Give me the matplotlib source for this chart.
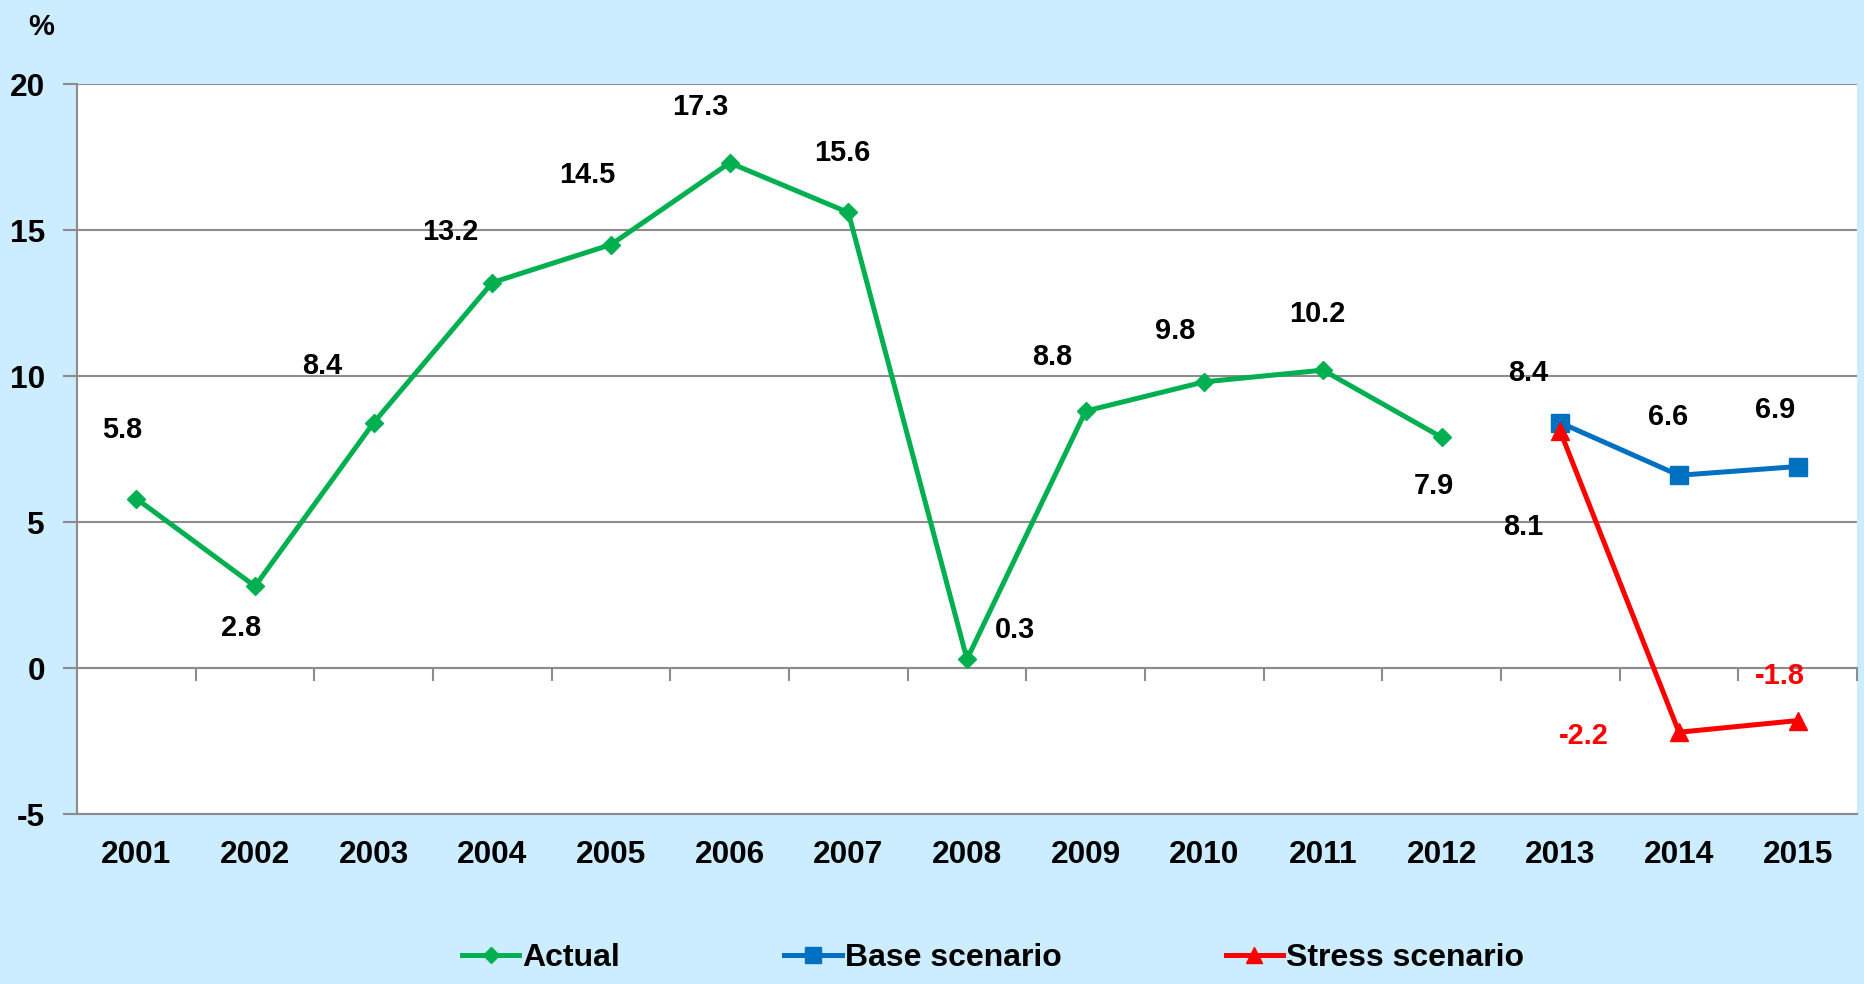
import numpy as np
import matplotlib.pyplot as plt

plt.rcParams['font.family'] = ['Liberation Sans', 'DejaVu Sans']
plt.rcParams['font.weight'] = 'bold'
plt.rcParams['axes.unicode_minus'] = False

# data
years = ['2001', '2002', '2003', '2004', '2005', '2006', '2007', '2008',
         '2009', '2010', '2011', '2012', '2013', '2014', '2015']
actual = [5.8, 2.8, 8.4, 13.2, 14.5, 17.3, 15.6, 0.3, 8.8, 9.8, 10.2, 7.9]
base = [8.4, 6.6, 6.9]
stress = [8.1, -2.2, -1.8]

# label offsets (pixels) - placed by hand like in the original
off_actual = [(-14, 69), (-14, -42), (-51, 57), (-42, 51), (-24, 70), (-29, 56),
              (-6, 59), (48, 29), (-33, 54), (-29, 51), (-6, 56), (-8, -49)]
off_base = [(-32, 50), (-11, 58), (-23, 57)]
off_stress = [(-37, -96), (-95, -4), (-18, 45)]

verde = '#00B050'
azul = '#0070C0'
rojo = '#FF0000'
gris = '#8C8C8C'
fondo = '#CCECFF'

x = np.arange(len(years))
x_act = x[:len(actual)]
x_esc = x[len(actual):]

fig = plt.figure(figsize=(18.65, 9.84), dpi=100, facecolor=fondo)
ax = fig.add_axes([77 / 1865, 1 - 814 / 984, (1857 - 77) / 1865, (814 - 84) / 984])
ax.set_facecolor('white')

ax.plot(x_act, actual, color=verde, lw=3.6, marker='D', ms=9, label='Actual', zorder=3)
ax.plot(x_esc, base, color=azul, lw=3.6, marker='s', ms=13, label='Base scenario', zorder=3)
ax.plot(x_esc, stress, color=rojo, lw=3.6, marker='^', ms=13, label='Stress scenario', zorder=4)

for xi, v, o in zip(x_act, actual, off_actual):
    ax.annotate(f'{v:.1f}', (xi, v), xytext=o, textcoords='offset pixels',
                ha='center', va='center', fontsize=20.8, fontweight='bold', color='black')
for xi, v, o in zip(x_esc, base, off_base):
    ax.annotate(f'{v:.1f}', (xi, v), xytext=o, textcoords='offset pixels',
                ha='center', va='center', fontsize=20.8, fontweight='bold', color='black')
for xi, v, o in zip(x_esc, stress, off_stress):
    ax.annotate(f'{v:.1f}', (xi, v), xytext=o, textcoords='offset pixels',
                ha='center', va='center', fontsize=20.8, fontweight='bold',
                color='black' if v > 0 else rojo)

ax.set_xlim(-0.5, len(years) - 0.5)
ax.set_ylim(-5, 20)
ax.set_yticks([-5, 0, 5, 10, 15, 20])
ax.set_xticks(x)
ax.set_xticklabels(years)
ax.tick_params(axis='x', length=0, pad=18.5, labelsize=22.8)
ax.tick_params(axis='y', length=10, width=1.5, color=gris, direction='out', pad=13, labelsize=22.8)

ax.grid(axis='y', color=gris, lw=1.5)
ax.set_axisbelow(True)
for lado in ['top', 'right']:
    ax.spines[lado].set_visible(False)
for lado in ['left', 'bottom']:
    ax.spines[lado].set_color(gris)
    ax.spines[lado].set_linewidth(1.5)

# eje de categorias sobre el cero, con marcas entre años
sec = ax.secondary_xaxis(0.2)
sec.set_xticks(np.arange(-0.5, len(years), 1.0))
sec.tick_params(axis='x', length=9, width=1.5, color=gris, direction='out', labelbottom=False)
sec.spines['bottom'].set_color(gris)
sec.spines['bottom'].set_linewidth(1.5)

fig.text(41 / 1865, 1 - 27 / 984, '%', ha='center', va='center', fontsize=21, fontweight='bold')

fig.legend(loc='center left', bbox_to_anchor=(462 / 1865, 1 - 958 / 984), ncol=3,
           frameon=False, fontsize=23, handlelength=1.8, handletextpad=0.1,
           columnspacing=5.13, borderpad=0, borderaxespad=0, markerscale=0.85)

fig.savefig('out.png', dpi=100, facecolor=fondo)
